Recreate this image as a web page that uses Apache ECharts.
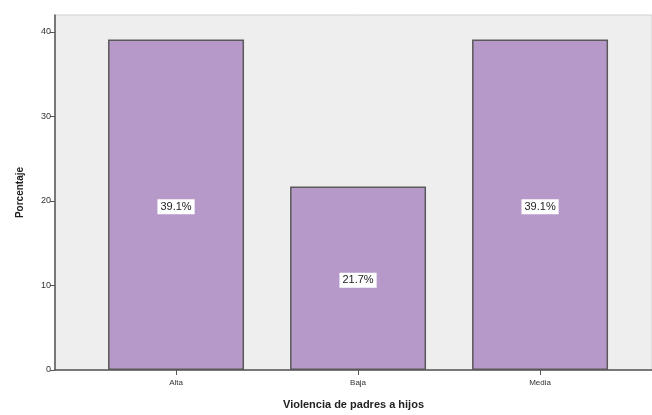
<!DOCTYPE html>
<html>
<head>
<meta charset="utf-8">
<script src="https://cdn.jsdelivr.net/npm/echarts@6/dist/echarts.min.js"></script>
<style>html,body{margin:0;padding:0;background:#fff}#c{width:652px;height:415px}</style>
</head>
<body>
<div id="c"></div>
<script>
const categories = ['Alta', 'Baja', 'Media'];
const percentages = [39.1, 21.7, 39.1];
const yTicks = [0, 10, 20, 30, 40];

const positions = categories.map((c, i) => i + 1);
const chart = echarts.init(document.getElementById('c'), null, {renderer: 'canvas'});
chart.setOption({
  animation: false,
  backgroundColor: '#ffffff',
  grid: {left: 55, right: 0, top: 15, bottom: 43, show: true, backgroundColor: '#eeeeee', borderColor: '#d0d0d0', borderWidth: 1},
  xAxis: {
    type: 'value', min: 0.335, max: 3.615,
    name: 'Violencia de padres a hijos', nameLocation: 'middle', nameGap: 29,
    nameTextStyle: {fontFamily: 'Liberation Sans', fontWeight: 'bold', fontSize: 11, color: '#222'},
    axisLine: {show: true, lineStyle: {color: '#555', width: 1.5}},
    axisTick: {show: true, length: 5, customValues: positions, lineStyle: {color: '#555'}},
    splitLine: {show: false},
    axisLabel: {customValues: positions, formatter: v => categories[Math.round(v) - 1] || '', fontFamily: 'Liberation Sans', fontSize: 8, color: '#333', margin: 9}
  },
  yAxis: {
    type: 'value', min: 0, max: 42, interval: 10,
    name: 'Porcentaje', nameLocation: 'middle', nameGap: 30, nameRotate: 90,
    nameTextStyle: {fontFamily: 'Liberation Sans', fontWeight: 'bold', fontSize: 10, color: '#222'},
    axisLine: {show: true, lineStyle: {color: '#555', width: 1.5}},
    axisTick: {show: true, length: 5, customValues: yTicks, lineStyle: {color: '#555'}},
    splitLine: {show: false},
    axisLabel: {customValues: yTicks, fontFamily: 'Liberation Sans', fontSize: 9, color: '#333', margin: 4}
  },
  series: [{
    type: 'bar',
    barWidth: 136,
    data: positions.map((p, i) => [p, percentages[i]]),
    itemStyle: {color: '#b698c9', borderColor: '#5a5a5a', borderWidth: 1.5},
    label: {
      show: true, position: 'inside', offset: [0, 2],
      formatter: p => p.value[1].toFixed(1) + '%',
      backgroundColor: '#ffffff', padding: [2, 3],
      fontFamily: 'Liberation Sans', fontSize: 11, color: '#222'
    }
  }]
});
</script>
</body>
</html>
